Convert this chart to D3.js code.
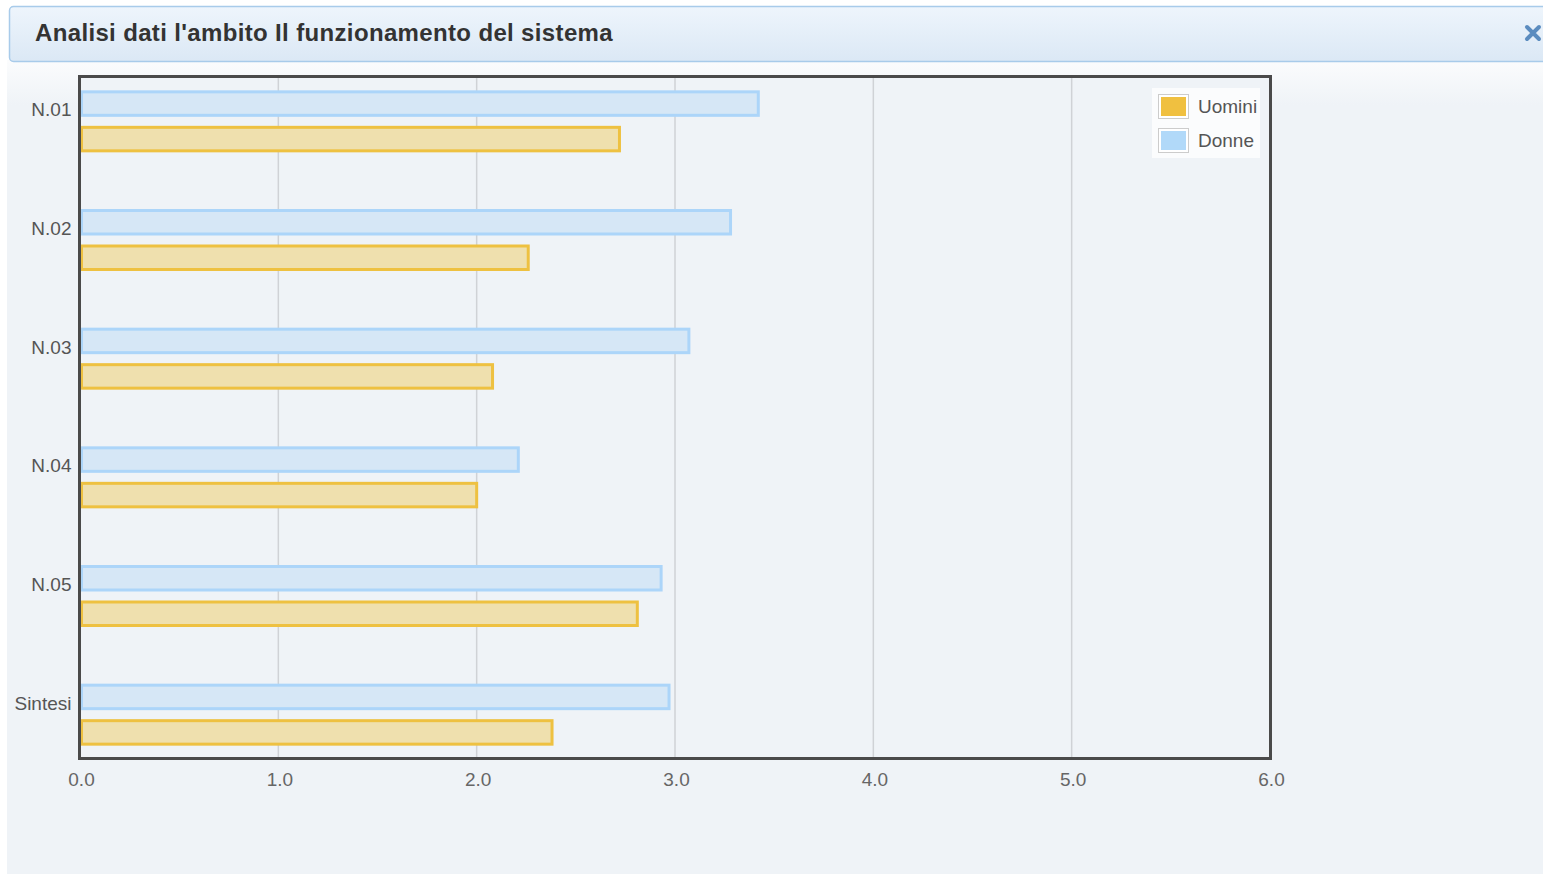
<!DOCTYPE html>
<html>
<head>
<meta charset="utf-8">
<script src="https://cdn.jsdelivr.net/npm/d3@7"></script>
<style>
  html, body { margin: 0; padding: 0; background: #ffffff; }
  svg { display: block; }
</style>
</head>
<body>
<svg id="chart" width="1543" height="874"></svg>
<script>
// ---- data ----
const title = "Analisi dati l'ambito Il funzionamento del sistema";
const categories = ["N.01", "N.02", "N.03", "N.04", "N.05", "Sintesi"];
const donne  = [3.42, 3.28, 3.07, 2.21, 2.93, 2.97];
const uomini = [2.72, 2.26, 2.08, 2.00, 2.81, 2.38];
const xTicks = [0, 1, 2, 3, 4, 5, 6];
const seriesNames = ["Uomini", "Donne"];

const svg = d3.select("#chart");
const defs = svg.append("defs");

// header gradient
const hg = defs.append("linearGradient").attr("id", "hg").attr("x1", 0).attr("y1", 0).attr("x2", 0).attr("y2", 1);
hg.append("stop").attr("offset", "0%").attr("stop-color", "#eef5fc");
hg.append("stop").attr("offset", "100%").attr("stop-color", "#dbe8f5");
// body top glow
const bg = defs.append("linearGradient").attr("id", "bg").attr("x1", 0).attr("y1", 0).attr("x2", 0).attr("y2", 1);
bg.append("stop").attr("offset", "0%").attr("stop-color", "#fbfcfd");
bg.append("stop").attr("offset", "100%").attr("stop-color", "#eff3f7");

// body panel
svg.append("rect").attr("x", 7).attr("y", 60).attr("width", 1536).attr("height", 814).attr("fill", "#eff3f7");
svg.append("rect").attr("x", 7).attr("y", 60).attr("width", 1536).attr("height", 45).attr("fill", "url(#bg)");

// header
svg.append("rect").attr("x", 9.5).attr("y", 6.5).attr("width", 1545).attr("height", 55).attr("rx", 4)
  .attr("fill", "url(#hg)").attr("stroke", "#a8cbea").attr("stroke-width", 1.5);
svg.append("text").attr("x", 35).attr("y", 41).text(title)
  .attr("font-family", "Liberation Sans, Arial, sans-serif").attr("font-weight", "bold")
  .attr("font-size", 24).attr("letter-spacing", 0.35).attr("fill", "#333333");
// close icon
const cx = 1533, cy = 33, s = 6;
svg.append("path").attr("d", `M${cx - s},${cy - s}L${cx + s},${cy + s}M${cx + s},${cy - s}L${cx - s},${cy + s}`)
  .attr("stroke", "#5b8cbf").attr("stroke-width", 4).attr("stroke-linecap", "round");

// ---- plot ----
const plot = { left: 80, right: 1270, top: 77, bottom: 758 };
const x = d3.scaleLinear().domain([0, 6]).range([plot.left, plot.right]);
const y = d3.scaleBand().domain(categories).range([62, 774]);
const bc = c => y(c) + y.bandwidth() / 2;

svg.append("rect").attr("x", plot.left).attr("y", plot.top)
  .attr("width", plot.right - plot.left).attr("height", plot.bottom - plot.top).attr("fill", "#eff3f7");

// gridlines
svg.append("g").selectAll("line").data(xTicks.filter(t => t > 0 && t < 6)).join("line")
  .attr("x1", d => x(d)).attr("x2", d => x(d)).attr("y1", plot.top).attr("y2", plot.bottom)
  .attr("stroke", "#cfd2d6").attr("stroke-width", 1.5);

// bars
const barH = 23.5;
const rows = categories.map((c, i) => ({ c, d: donne[i], u: uomini[i] }));
svg.append("g").selectAll("rect").data(rows).join("rect")
  .attr("x", x(0) + 1.5).attr("y", d => bc(d.c) - 29.5)
  .attr("width", d => x(d.d) - x(0) - 1.5).attr("height", barH)
  .attr("fill", "#d6e7f6").attr("stroke", "#acd5f9").attr("stroke-width", 3);
svg.append("g").selectAll("rect").data(rows).join("rect")
  .attr("x", x(0) + 1.5).attr("y", d => bc(d.c) + 6)
  .attr("width", d => x(d.u) - x(0) - 1.5).attr("height", barH)
  .attr("fill", "#efe0ae").attr("stroke", "#eec141").attr("stroke-width", 3);

// frame
svg.append("rect").attr("x", plot.left - 0.5).attr("y", plot.top - 0.5)
  .attr("width", plot.right - plot.left + 1).attr("height", plot.bottom - plot.top + 1)
  .attr("fill", "none").attr("stroke", "#4a4a4a").attr("stroke-width", 3);

// y axis labels
const yAxis = d3.axisLeft(y).tickSize(0).tickPadding(0);
const yg = svg.append("g").attr("transform", `translate(${plot.left - 8.5},-11)`).call(yAxis);
yg.select(".domain").remove();
yg.selectAll("text").attr("font-family", "Liberation Sans, Arial, sans-serif").attr("font-size", 19).attr("fill", "#555555");

// x axis labels
const xAxis = d3.axisBottom(x).tickValues(xTicks).tickFormat(d3.format(".1f")).tickSize(0).tickPadding(0);
const xg = svg.append("g").attr("transform", `translate(1,${plot.bottom + 14})`).call(xAxis);
xg.select(".domain").remove();
xg.selectAll("text").attr("font-family", "Liberation Sans, Arial, sans-serif").attr("font-size", 19).attr("fill", "#666666");

// legend
const lg = svg.append("g").attr("transform", "translate(1152,88)");
lg.append("rect").attr("width", 108).attr("height", 70).attr("fill", "#fbfcfd");
const legColors = ["#f0c040", "#b1d9f9"];
seriesNames.forEach((n, i) => {
  const g = lg.append("g").attr("transform", `translate(6,${6 + i * 34})`);
  g.append("rect").attr("x", 0.5).attr("y", 0.5).attr("width", 30).attr("height", 24).attr("fill", "#ffffff").attr("stroke", "#cccccc");
  g.append("rect").attr("x", 3).attr("y", 3).attr("width", 25).attr("height", 19).attr("fill", legColors[i]);
  g.append("text").attr("x", 40).attr("y", 19).text(n)
    .attr("font-family", "Liberation Sans, Arial, sans-serif").attr("font-size", 19).attr("fill", "#555555");
});
</script>
</body>
</html>
